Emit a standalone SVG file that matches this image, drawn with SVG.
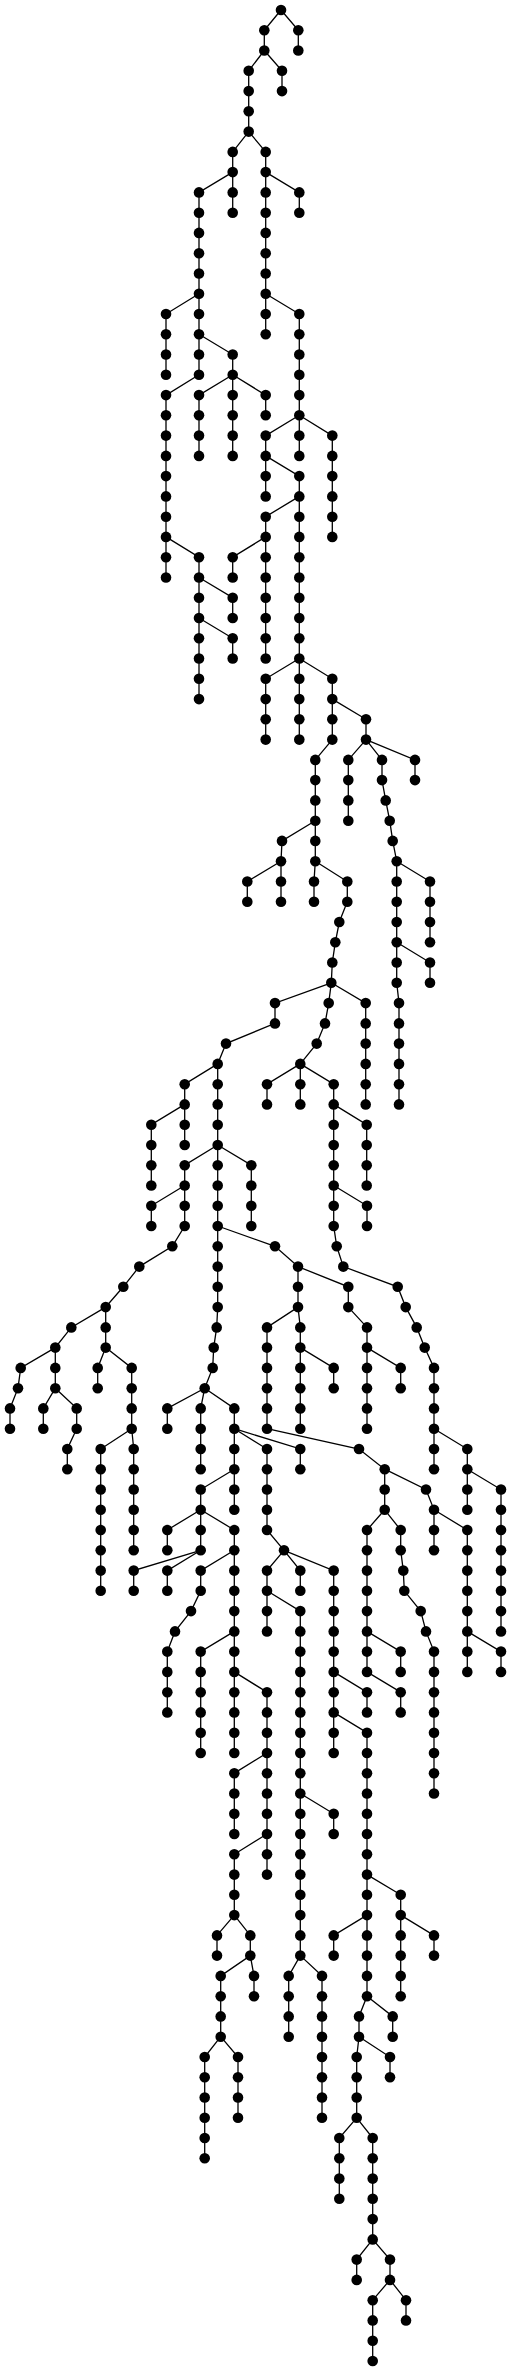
<svg xmlns="http://www.w3.org/2000/svg" width="511" height="2371" viewBox="0 0 511 2371">
<style>
.e path{fill:none;stroke:#000;stroke-width:1.3}
.nodes circle{fill:#000}
</style>
<rect width="511" height="2371" fill="#fff"/>
<g id="connectors" class="e">
<path d="M281,10L264.3,30.3V50.5"/>
<path d="M281,10L298.3,30.3V50.5"/>
<path d="M264.3,50.5L248.7,70.8V131.6"/>
<path d="M264.3,50.5L282,70.8V91.1"/>
<path d="M248.7,131.6L232.7,151.9V172.1"/>
<path d="M248.7,131.6L265.7,151.9V334.3"/>
<path d="M232.7,172.1L199,192.4V374.8"/>
<path d="M232.7,172.1L232.7,192.4V212.7"/>
<path d="M265.7,172.1L299.3,192.4V212.7"/>
<path d="M199,293.7L166,314V374.8"/>
<path d="M265.7,293.7L299.3,314V455.9"/>
<path d="M199,334.3L232.7,354.5V374.8"/>
<path d="M199,374.8L166,395.1V577.5"/>
<path d="M232.7,374.8L199,395.1V455.9"/>
<path d="M232.7,374.8L232.7,395.1V455.9"/>
<path d="M232.7,374.8L265.7,395.1V415.3"/>
<path d="M299.3,415.3L265.7,435.6V496.4"/>
<path d="M299.3,415.3L332.3,435.6V536.9"/>
<path d="M265.7,455.9L299.3,476.1V739.6"/>
<path d="M299.3,496.4L265.7,516.7V658.5"/>
<path d="M166,536.9L199,557.2V699.1"/>
<path d="M265.7,536.9L232.7,557.2V577.5"/>
<path d="M199,577.5L232.7,597.7V618"/>
<path d="M199,618L232.7,638.3V658.5"/>
<path d="M299.3,658.5L265.7,678.8V739.6"/>
<path d="M299.3,658.5L332.3,678.8V739.6"/>
<path d="M332.3,699.1L366,719.3V739.6"/>
<path d="M332.3,739.6L315.3,759.9V861.2"/>
<path d="M366,739.6L348.3,759.9V820.7"/>
<path d="M366,739.6L382,759.9V780.1"/>
<path d="M366,739.6L415,759.9V780.1"/>
<path d="M382,780.1L385.7,800.4L389.7,820.7L392.7,840.9L396.7,861.2V982.8"/>
<path d="M396.7,861.2L430,881.5V942.3"/>
<path d="M396.7,942.3L430,962.5V982.8"/>
<path d="M396.7,982.8L399,1003.1V1104.4"/>
<path d="M315.3,820.7L282,840.9L281,861.2V901.7"/>
<path d="M281,861.2L247.3,881.5V901.7"/>
<path d="M315.3,861.2L314,881.5V901.7"/>
<path d="M315.3,861.2L347.3,881.5V901.7L339.3,922L335.3,942.3L332.3,962.5L331.3,982.8"/>
<path d="M331.3,982.8L275,1003.1V1023.4L226,1043.6L217.7,1063.9V1307.1"/>
<path d="M331.3,982.8L328.7,1003.1L325,1023.4L316.7,1043.6L300.3,1063.9V1104.4"/>
<path d="M331.3,982.8L365.7,1003.1V1104.4"/>
<path d="M217.7,1063.9L184.7,1084.2V1145"/>
<path d="M300.3,1063.9L267,1084.2V1104.4"/>
<path d="M300.3,1063.9L333.7,1084.2V1226"/>
<path d="M184.7,1104.4L151.3,1124.7V1185.5"/>
<path d="M333.7,1104.4L366.7,1124.7V1185.5"/>
<path d="M217.7,1145L184.7,1165.2V1226L172.3,1246.3L139.3,1266.6L123.3,1286.8L105.7,1307.1V1347.6"/>
<path d="M217.7,1145L251.3,1165.2V1226"/>
<path d="M184.7,1185.5L151.3,1205.8V1226"/>
<path d="M333.7,1185.5L367,1205.8V1226"/>
<path d="M217.7,1226L275,1246.3L298,1266.6V1307.1"/>
<path d="M333.7,1226L336.7,1246.3L343.3,1266.6L397.7,1286.8L405.7,1307.1L416.7,1327.4L424.7,1347.6L434,1367.9V1469.2"/>
<path d="M298,1266.6L348.3,1286.8V1307.1"/>
<path d="M105.7,1307.1L71.3,1327.4L55.3,1347.6V1388.2"/>
<path d="M217.7,1307.1L216.7,1327.4L213.7,1347.6L212.7,1367.9L204.7,1388.2"/>
<path d="M298,1307.1L267,1327.4V1428.7"/>
<path d="M298,1307.1L300.3,1327.4V1428.7"/>
<path d="M348.3,1307.1L367,1327.4V1428.7"/>
<path d="M55.3,1347.6L20.7,1367.9L18,1388.2L10,1408.4V1428.7"/>
<path d="M105.7,1347.6L97.7,1367.9V1388.2"/>
<path d="M105.7,1347.6L131.7,1367.9V1428.7"/>
<path d="M300.3,1347.6L333.7,1367.9V1388.2"/>
<path d="M367,1347.6L400.7,1367.9V1388.2"/>
<path d="M55.3,1388.2L43.3,1408.4V1428.7"/>
<path d="M55.3,1388.2L76.7,1408.4V1428.7"/>
<path d="M204.7,1388.2L167.3,1408.4V1428.7"/>
<path d="M204.7,1388.2L200.7,1408.4V1469.2"/>
<path d="M204.7,1388.2L234.3,1408.4V1509.8"/>
<path d="M76.7,1428.7L67.3,1449V1469.2"/>
<path d="M131.7,1428.7L100.7,1449V1590.8"/>
<path d="M131.7,1428.7L133.7,1449V1550.3"/>
<path d="M234.3,1428.7L267,1449V1530L284,1550.3"/>
<path d="M234.3,1428.7L300.3,1449V1469.2"/>
<path d="M267,1428.7L359,1449L384.7,1469.2V1509.8"/>
<path d="M434,1428.7L467.3,1449V1509.8"/>
<path d="M234.3,1469.2L200.7,1489.5V1550.3"/>
<path d="M384.7,1469.2L426,1489.5L434,1509.8V1550.3"/>
<path d="M467.3,1469.2L501,1489.5V1631.4"/>
<path d="M200.7,1509.8L167.3,1530V1550.3"/>
<path d="M200.7,1509.8L234.3,1530V1753"/>
<path d="M384.7,1509.8L367,1530V1671.9"/>
<path d="M384.7,1509.8L400.7,1530V1550.3L403.3,1570.6L404.3,1590.8L420.7,1611.1L426,1631.4L434,1651.6V1793.5"/>
<path d="M434,1509.8L467.3,1530V1671.9"/>
<path d="M200.7,1550.3L133.7,1570.6V1590.8"/>
<path d="M200.7,1550.3L167.3,1570.6V1590.8"/>
<path d="M234.3,1550.3L200.7,1570.6V1590.8L191,1611.1L175,1631.4L167.3,1651.6V1712.4"/>
<path d="M284,1550.3L267,1570.6V1631.4"/>
<path d="M284,1550.3L300.3,1570.6V1590.8"/>
<path d="M284,1550.3L333.7,1570.6V1753"/>
<path d="M267,1590.8L300.3,1611.1V1955.6"/>
<path d="M234.3,1631.4L200.7,1651.6V1753"/>
<path d="M367,1631.4L400.7,1651.6V1671.9"/>
<path d="M467.3,1631.4L501,1651.6V1671.9"/>
<path d="M234.3,1671.9L267,1692.2V1874.6"/>
<path d="M333.7,1671.9L367,1692.2V1712.4"/>
<path d="M367,1671.9L400.7,1692.2V1712.4"/>
<path d="M333.7,1712.4L367,1732.7V1996.2"/>
<path d="M267,1753L234.3,1773.2V1834"/>
<path d="M300.3,1793.5L333.7,1813.8V1834"/>
<path d="M267,1834L234.3,1854.3V1915.1"/>
<path d="M367,1874.6L400.7,1894.8V1996.2"/>
<path d="M234.3,1915.1L217,1935.4V1955.6"/>
<path d="M234.3,1915.1L250.3,1935.4V1955.6"/>
<path d="M367,1915.1L333.7,1935.4V1955.6"/>
<path d="M400.7,1915.1L434,1935.4V1955.6"/>
<path d="M250.3,1955.6L220.7,1975.9V2036.7"/>
<path d="M250.3,1955.6L254,1975.9V1996.2"/>
<path d="M300.3,1955.6L288.7,1975.9V2036.7"/>
<path d="M300.3,1955.6L322,1975.9V2117.8"/>
<path d="M367,1996.2L359,2016.4V2036.7"/>
<path d="M367,1996.2L392.7,2016.4V2036.7"/>
<path d="M220.7,2036.7L204.7,2057V2158.3"/>
<path d="M220.7,2036.7L238,2057V2117.8"/>
<path d="M359,2036.7L356.7,2057V2117.8"/>
<path d="M359,2036.7L390,2057V2077.2"/>
<path d="M356.7,2117.8L339.3,2138V2198.8"/>
<path d="M356.7,2117.8L372.7,2138V2239.4"/>
<path d="M372.7,2239.4L356.7,2259.6V2279.9"/>
<path d="M372.7,2239.4L390,2259.6V2279.9"/>
<path d="M390,2279.9L372.7,2300.2V2361"/>
<path d="M390,2279.9L406,2300.2V2320.4"/>
</g>
<g id="nodes" class="nodes">
<g id="n0"><circle cx="281" cy="10" r="5.3"/></g>
<g id="n1"><circle cx="264.3" cy="30.3" r="5.3"/></g>
<g id="n2"><circle cx="264.3" cy="50.5" r="5.3"/></g>
<g id="n3"><circle cx="298.3" cy="30.3" r="5.3"/></g>
<g id="n4"><circle cx="298.3" cy="50.5" r="5.3"/></g>
<g id="n5"><circle cx="248.7" cy="70.8" r="5.3"/></g>
<g id="n6"><circle cx="248.7" cy="91.1" r="5.3"/></g>
<g id="n7"><circle cx="248.7" cy="111.3" r="5.3"/></g>
<g id="n8"><circle cx="248.7" cy="131.6" r="5.3"/></g>
<g id="n9"><circle cx="282" cy="70.8" r="5.3"/></g>
<g id="n10"><circle cx="282" cy="91.1" r="5.3"/></g>
<g id="n11"><circle cx="232.7" cy="151.9" r="5.3"/></g>
<g id="n12"><circle cx="232.7" cy="172.1" r="5.3"/></g>
<g id="n13"><circle cx="265.7" cy="151.9" r="5.3"/></g>
<g id="n14"><circle cx="265.7" cy="172.1" r="5.3"/></g>
<g id="n15"><circle cx="265.7" cy="192.4" r="5.3"/></g>
<g id="n16"><circle cx="265.7" cy="212.7" r="5.3"/></g>
<g id="n17"><circle cx="265.7" cy="232.9" r="5.3"/></g>
<g id="n18"><circle cx="265.7" cy="253.2" r="5.3"/></g>
<g id="n19"><circle cx="265.7" cy="273.5" r="5.3"/></g>
<g id="n20"><circle cx="265.7" cy="293.7" r="5.3"/></g>
<g id="n21"><circle cx="265.7" cy="314" r="5.3"/></g>
<g id="n22"><circle cx="265.7" cy="334.3" r="5.3"/></g>
<g id="n23"><circle cx="199" cy="192.4" r="5.3"/></g>
<g id="n24"><circle cx="199" cy="212.7" r="5.3"/></g>
<g id="n25"><circle cx="199" cy="232.9" r="5.3"/></g>
<g id="n26"><circle cx="199" cy="253.2" r="5.3"/></g>
<g id="n27"><circle cx="199" cy="273.5" r="5.3"/></g>
<g id="n28"><circle cx="199" cy="293.7" r="5.3"/></g>
<g id="n29"><circle cx="199" cy="314" r="5.3"/></g>
<g id="n30"><circle cx="199" cy="334.3" r="5.3"/></g>
<g id="n31"><circle cx="199" cy="354.5" r="5.3"/></g>
<g id="n32"><circle cx="199" cy="374.8" r="5.3"/></g>
<g id="n33"><circle cx="232.7" cy="192.4" r="5.3"/></g>
<g id="n34"><circle cx="232.7" cy="212.7" r="5.3"/></g>
<g id="n35"><circle cx="299.3" cy="192.4" r="5.3"/></g>
<g id="n36"><circle cx="299.3" cy="212.7" r="5.3"/></g>
<g id="n37"><circle cx="166" cy="314" r="5.3"/></g>
<g id="n38"><circle cx="166" cy="334.3" r="5.3"/></g>
<g id="n39"><circle cx="166" cy="354.5" r="5.3"/></g>
<g id="n40"><circle cx="166" cy="374.8" r="5.3"/></g>
<g id="n41"><circle cx="299.3" cy="314" r="5.3"/></g>
<g id="n42"><circle cx="299.3" cy="334.3" r="5.3"/></g>
<g id="n43"><circle cx="299.3" cy="354.5" r="5.3"/></g>
<g id="n44"><circle cx="299.3" cy="374.8" r="5.3"/></g>
<g id="n45"><circle cx="299.3" cy="395.1" r="5.3"/></g>
<g id="n46"><circle cx="299.3" cy="415.3" r="5.3"/></g>
<g id="n47"><circle cx="299.3" cy="435.6" r="5.3"/></g>
<g id="n48"><circle cx="299.3" cy="455.9" r="5.3"/></g>
<g id="n49"><circle cx="232.7" cy="354.5" r="5.3"/></g>
<g id="n50"><circle cx="232.7" cy="374.8" r="5.3"/></g>
<g id="n51"><circle cx="166" cy="395.1" r="5.3"/></g>
<g id="n52"><circle cx="166" cy="415.3" r="5.3"/></g>
<g id="n53"><circle cx="166" cy="435.6" r="5.3"/></g>
<g id="n54"><circle cx="166" cy="455.9" r="5.3"/></g>
<g id="n55"><circle cx="166" cy="476.1" r="5.3"/></g>
<g id="n56"><circle cx="166" cy="496.4" r="5.3"/></g>
<g id="n57"><circle cx="166" cy="516.7" r="5.3"/></g>
<g id="n58"><circle cx="166" cy="536.9" r="5.3"/></g>
<g id="n59"><circle cx="166" cy="557.2" r="5.3"/></g>
<g id="n60"><circle cx="166" cy="577.5" r="5.3"/></g>
<g id="n61"><circle cx="199" cy="395.1" r="5.3"/></g>
<g id="n62"><circle cx="199" cy="415.3" r="5.3"/></g>
<g id="n63"><circle cx="199" cy="435.6" r="5.3"/></g>
<g id="n64"><circle cx="199" cy="455.9" r="5.3"/></g>
<g id="n65"><circle cx="232.7" cy="395.1" r="5.3"/></g>
<g id="n66"><circle cx="232.7" cy="415.3" r="5.3"/></g>
<g id="n67"><circle cx="232.7" cy="435.6" r="5.3"/></g>
<g id="n68"><circle cx="232.7" cy="455.9" r="5.3"/></g>
<g id="n69"><circle cx="265.7" cy="395.1" r="5.3"/></g>
<g id="n70"><circle cx="265.7" cy="415.3" r="5.3"/></g>
<g id="n71"><circle cx="265.7" cy="435.6" r="5.3"/></g>
<g id="n72"><circle cx="265.7" cy="455.9" r="5.3"/></g>
<g id="n73"><circle cx="265.7" cy="476.1" r="5.3"/></g>
<g id="n74"><circle cx="265.7" cy="496.4" r="5.3"/></g>
<g id="n75"><circle cx="332.3" cy="435.6" r="5.3"/></g>
<g id="n76"><circle cx="332.3" cy="455.9" r="5.3"/></g>
<g id="n77"><circle cx="332.3" cy="476.1" r="5.3"/></g>
<g id="n78"><circle cx="332.3" cy="496.4" r="5.3"/></g>
<g id="n79"><circle cx="332.3" cy="516.7" r="5.3"/></g>
<g id="n80"><circle cx="332.3" cy="536.9" r="5.3"/></g>
<g id="n81"><circle cx="299.3" cy="476.1" r="5.3"/></g>
<g id="n82"><circle cx="299.3" cy="496.4" r="5.3"/></g>
<g id="n83"><circle cx="299.3" cy="516.7" r="5.3"/></g>
<g id="n84"><circle cx="299.3" cy="536.9" r="5.3"/></g>
<g id="n85"><circle cx="299.3" cy="557.2" r="5.3"/></g>
<g id="n86"><circle cx="299.3" cy="577.5" r="5.3"/></g>
<g id="n87"><circle cx="299.3" cy="597.7" r="5.3"/></g>
<g id="n88"><circle cx="299.3" cy="618" r="5.3"/></g>
<g id="n89"><circle cx="299.3" cy="638.3" r="5.3"/></g>
<g id="n90"><circle cx="299.3" cy="658.5" r="5.3"/></g>
<g id="n91"><circle cx="299.3" cy="678.8" r="5.3"/></g>
<g id="n92"><circle cx="299.3" cy="699.1" r="5.3"/></g>
<g id="n93"><circle cx="299.3" cy="719.3" r="5.3"/></g>
<g id="n94"><circle cx="299.3" cy="739.6" r="5.3"/></g>
<g id="n95"><circle cx="265.7" cy="516.7" r="5.3"/></g>
<g id="n96"><circle cx="265.7" cy="536.9" r="5.3"/></g>
<g id="n97"><circle cx="265.7" cy="557.2" r="5.3"/></g>
<g id="n98"><circle cx="265.7" cy="577.5" r="5.3"/></g>
<g id="n99"><circle cx="265.7" cy="597.7" r="5.3"/></g>
<g id="n100"><circle cx="265.7" cy="618" r="5.3"/></g>
<g id="n101"><circle cx="265.7" cy="638.3" r="5.3"/></g>
<g id="n102"><circle cx="265.7" cy="658.5" r="5.3"/></g>
<g id="n103"><circle cx="199" cy="557.2" r="5.3"/></g>
<g id="n104"><circle cx="199" cy="577.5" r="5.3"/></g>
<g id="n105"><circle cx="199" cy="597.7" r="5.3"/></g>
<g id="n106"><circle cx="199" cy="618" r="5.3"/></g>
<g id="n107"><circle cx="199" cy="638.3" r="5.3"/></g>
<g id="n108"><circle cx="199" cy="658.5" r="5.3"/></g>
<g id="n109"><circle cx="199" cy="678.8" r="5.3"/></g>
<g id="n110"><circle cx="199" cy="699.1" r="5.3"/></g>
<g id="n111"><circle cx="232.7" cy="557.2" r="5.3"/></g>
<g id="n112"><circle cx="232.7" cy="577.5" r="5.3"/></g>
<g id="n113"><circle cx="232.7" cy="597.7" r="5.3"/></g>
<g id="n114"><circle cx="232.7" cy="618" r="5.3"/></g>
<g id="n115"><circle cx="232.7" cy="638.3" r="5.3"/></g>
<g id="n116"><circle cx="232.7" cy="658.5" r="5.3"/></g>
<g id="n117"><circle cx="265.7" cy="678.8" r="5.3"/></g>
<g id="n118"><circle cx="265.7" cy="699.1" r="5.3"/></g>
<g id="n119"><circle cx="265.7" cy="719.3" r="5.3"/></g>
<g id="n120"><circle cx="265.7" cy="739.6" r="5.3"/></g>
<g id="n121"><circle cx="332.3" cy="678.8" r="5.3"/></g>
<g id="n122"><circle cx="332.3" cy="699.1" r="5.3"/></g>
<g id="n123"><circle cx="332.3" cy="719.3" r="5.3"/></g>
<g id="n124"><circle cx="332.3" cy="739.6" r="5.3"/></g>
<g id="n125"><circle cx="366" cy="719.3" r="5.3"/></g>
<g id="n126"><circle cx="366" cy="739.6" r="5.3"/></g>
<g id="n127"><circle cx="315.3" cy="759.9" r="5.3"/></g>
<g id="n128"><circle cx="315.3" cy="780.1" r="5.3"/></g>
<g id="n129"><circle cx="315.3" cy="800.4" r="5.3"/></g>
<g id="n130"><circle cx="315.3" cy="820.7" r="5.3"/></g>
<g id="n131"><circle cx="315.3" cy="840.9" r="5.3"/></g>
<g id="n132"><circle cx="315.3" cy="861.2" r="5.3"/></g>
<g id="n133"><circle cx="348.3" cy="759.9" r="5.3"/></g>
<g id="n134"><circle cx="348.3" cy="780.1" r="5.3"/></g>
<g id="n135"><circle cx="348.3" cy="800.4" r="5.3"/></g>
<g id="n136"><circle cx="348.3" cy="820.7" r="5.3"/></g>
<g id="n137"><circle cx="382" cy="759.9" r="5.3"/></g>
<g id="n138"><circle cx="382" cy="780.1" r="5.3"/></g>
<g id="n139"><circle cx="415" cy="759.9" r="5.3"/></g>
<g id="n140"><circle cx="415" cy="780.1" r="5.3"/></g>
<g id="n141"><circle cx="385.7" cy="800.4" r="5.3"/></g>
<g id="n142"><circle cx="389.7" cy="820.7" r="5.3"/></g>
<g id="n143"><circle cx="392.7" cy="840.9" r="5.3"/></g>
<g id="n144"><circle cx="396.7" cy="861.2" r="5.3"/></g>
<g id="n145"><circle cx="396.7" cy="881.5" r="5.3"/></g>
<g id="n146"><circle cx="396.7" cy="901.7" r="5.3"/></g>
<g id="n147"><circle cx="396.7" cy="922" r="5.3"/></g>
<g id="n148"><circle cx="396.7" cy="942.3" r="5.3"/></g>
<g id="n149"><circle cx="396.7" cy="962.5" r="5.3"/></g>
<g id="n150"><circle cx="396.7" cy="982.8" r="5.3"/></g>
<g id="n151"><circle cx="430" cy="881.5" r="5.3"/></g>
<g id="n152"><circle cx="430" cy="901.7" r="5.3"/></g>
<g id="n153"><circle cx="430" cy="922" r="5.3"/></g>
<g id="n154"><circle cx="430" cy="942.3" r="5.3"/></g>
<g id="n155"><circle cx="430" cy="962.5" r="5.3"/></g>
<g id="n156"><circle cx="430" cy="982.8" r="5.3"/></g>
<g id="n157"><circle cx="399" cy="1003.1" r="5.3"/></g>
<g id="n158"><circle cx="399" cy="1023.4" r="5.3"/></g>
<g id="n159"><circle cx="399" cy="1043.6" r="5.3"/></g>
<g id="n160"><circle cx="399" cy="1063.9" r="5.3"/></g>
<g id="n161"><circle cx="399" cy="1084.2" r="5.3"/></g>
<g id="n162"><circle cx="399" cy="1104.4" r="5.3"/></g>
<g id="n163"><circle cx="282" cy="840.9" r="5.3"/></g>
<g id="n164"><circle cx="281" cy="861.2" r="5.3"/></g>
<g id="n165"><circle cx="281" cy="881.5" r="5.3"/></g>
<g id="n166"><circle cx="281" cy="901.7" r="5.3"/></g>
<g id="n167"><circle cx="247.3" cy="881.5" r="5.3"/></g>
<g id="n168"><circle cx="247.3" cy="901.7" r="5.3"/></g>
<g id="n169"><circle cx="314" cy="881.5" r="5.3"/></g>
<g id="n170"><circle cx="314" cy="901.7" r="5.3"/></g>
<g id="n171"><circle cx="347.3" cy="881.5" r="5.3"/></g>
<g id="n172"><circle cx="347.3" cy="901.7" r="5.3"/></g>
<g id="n173"><circle cx="339.3" cy="922" r="5.3"/></g>
<g id="n174"><circle cx="335.3" cy="942.3" r="5.3"/></g>
<g id="n175"><circle cx="332.3" cy="962.5" r="5.3"/></g>
<g id="n176"><circle cx="331.3" cy="982.8" r="5.3"/></g>
<g id="n177"><circle cx="275" cy="1003.1" r="5.3"/></g>
<g id="n178"><circle cx="275" cy="1023.4" r="5.3"/></g>
<g id="n179"><circle cx="226" cy="1043.6" r="5.3"/></g>
<g id="n180"><circle cx="217.7" cy="1063.9" r="5.3"/></g>
<g id="n181"><circle cx="217.7" cy="1084.2" r="5.3"/></g>
<g id="n182"><circle cx="217.7" cy="1104.4" r="5.3"/></g>
<g id="n183"><circle cx="217.7" cy="1124.7" r="5.3"/></g>
<g id="n184"><circle cx="217.7" cy="1145" r="5.3"/></g>
<g id="n185"><circle cx="217.7" cy="1165.2" r="5.3"/></g>
<g id="n186"><circle cx="217.7" cy="1185.5" r="5.3"/></g>
<g id="n187"><circle cx="217.7" cy="1205.8" r="5.3"/></g>
<g id="n188"><circle cx="217.7" cy="1226" r="5.3"/></g>
<g id="n189"><circle cx="217.7" cy="1246.3" r="5.3"/></g>
<g id="n190"><circle cx="217.7" cy="1266.6" r="5.3"/></g>
<g id="n191"><circle cx="217.7" cy="1286.8" r="5.3"/></g>
<g id="n192"><circle cx="217.7" cy="1307.1" r="5.3"/></g>
<g id="n193"><circle cx="328.7" cy="1003.1" r="5.3"/></g>
<g id="n194"><circle cx="325" cy="1023.4" r="5.3"/></g>
<g id="n195"><circle cx="316.7" cy="1043.6" r="5.3"/></g>
<g id="n196"><circle cx="300.3" cy="1063.9" r="5.3"/></g>
<g id="n197"><circle cx="300.3" cy="1084.2" r="5.3"/></g>
<g id="n198"><circle cx="300.3" cy="1104.4" r="5.3"/></g>
<g id="n199"><circle cx="365.7" cy="1003.1" r="5.3"/></g>
<g id="n200"><circle cx="365.7" cy="1023.4" r="5.3"/></g>
<g id="n201"><circle cx="365.7" cy="1043.6" r="5.3"/></g>
<g id="n202"><circle cx="365.7" cy="1063.9" r="5.3"/></g>
<g id="n203"><circle cx="365.7" cy="1084.2" r="5.3"/></g>
<g id="n204"><circle cx="365.7" cy="1104.4" r="5.3"/></g>
<g id="n205"><circle cx="184.7" cy="1084.2" r="5.3"/></g>
<g id="n206"><circle cx="184.7" cy="1104.4" r="5.3"/></g>
<g id="n207"><circle cx="184.7" cy="1124.7" r="5.3"/></g>
<g id="n208"><circle cx="184.7" cy="1145" r="5.3"/></g>
<g id="n209"><circle cx="267" cy="1084.2" r="5.3"/></g>
<g id="n210"><circle cx="267" cy="1104.4" r="5.3"/></g>
<g id="n211"><circle cx="333.7" cy="1084.2" r="5.3"/></g>
<g id="n212"><circle cx="333.7" cy="1104.4" r="5.3"/></g>
<g id="n213"><circle cx="333.7" cy="1124.7" r="5.3"/></g>
<g id="n214"><circle cx="333.7" cy="1145" r="5.3"/></g>
<g id="n215"><circle cx="333.7" cy="1165.2" r="5.3"/></g>
<g id="n216"><circle cx="333.7" cy="1185.5" r="5.3"/></g>
<g id="n217"><circle cx="333.7" cy="1205.8" r="5.3"/></g>
<g id="n218"><circle cx="333.7" cy="1226" r="5.3"/></g>
<g id="n219"><circle cx="151.3" cy="1124.7" r="5.3"/></g>
<g id="n220"><circle cx="151.3" cy="1145" r="5.3"/></g>
<g id="n221"><circle cx="151.3" cy="1165.2" r="5.3"/></g>
<g id="n222"><circle cx="151.3" cy="1185.5" r="5.3"/></g>
<g id="n223"><circle cx="366.7" cy="1124.7" r="5.3"/></g>
<g id="n224"><circle cx="366.7" cy="1145" r="5.3"/></g>
<g id="n225"><circle cx="366.7" cy="1165.2" r="5.3"/></g>
<g id="n226"><circle cx="366.7" cy="1185.5" r="5.3"/></g>
<g id="n227"><circle cx="184.7" cy="1165.2" r="5.3"/></g>
<g id="n228"><circle cx="184.7" cy="1185.5" r="5.3"/></g>
<g id="n229"><circle cx="184.7" cy="1205.8" r="5.3"/></g>
<g id="n230"><circle cx="184.7" cy="1226" r="5.3"/></g>
<g id="n231"><circle cx="172.3" cy="1246.3" r="5.3"/></g>
<g id="n232"><circle cx="139.3" cy="1266.6" r="5.3"/></g>
<g id="n233"><circle cx="123.3" cy="1286.8" r="5.3"/></g>
<g id="n234"><circle cx="105.7" cy="1307.1" r="5.3"/></g>
<g id="n235"><circle cx="105.7" cy="1327.4" r="5.3"/></g>
<g id="n236"><circle cx="105.7" cy="1347.6" r="5.3"/></g>
<g id="n237"><circle cx="251.3" cy="1165.2" r="5.3"/></g>
<g id="n238"><circle cx="251.3" cy="1185.5" r="5.3"/></g>
<g id="n239"><circle cx="251.3" cy="1205.8" r="5.3"/></g>
<g id="n240"><circle cx="251.3" cy="1226" r="5.3"/></g>
<g id="n241"><circle cx="151.3" cy="1205.8" r="5.3"/></g>
<g id="n242"><circle cx="151.3" cy="1226" r="5.3"/></g>
<g id="n243"><circle cx="367" cy="1205.8" r="5.3"/></g>
<g id="n244"><circle cx="367" cy="1226" r="5.3"/></g>
<g id="n245"><circle cx="275" cy="1246.3" r="5.3"/></g>
<g id="n246"><circle cx="298" cy="1266.6" r="5.3"/></g>
<g id="n247"><circle cx="298" cy="1286.8" r="5.3"/></g>
<g id="n248"><circle cx="298" cy="1307.1" r="5.3"/></g>
<g id="n249"><circle cx="336.7" cy="1246.3" r="5.3"/></g>
<g id="n250"><circle cx="343.3" cy="1266.6" r="5.3"/></g>
<g id="n251"><circle cx="397.7" cy="1286.8" r="5.3"/></g>
<g id="n252"><circle cx="405.7" cy="1307.1" r="5.3"/></g>
<g id="n253"><circle cx="416.7" cy="1327.4" r="5.3"/></g>
<g id="n254"><circle cx="424.7" cy="1347.6" r="5.3"/></g>
<g id="n255"><circle cx="434" cy="1367.9" r="5.3"/></g>
<g id="n256"><circle cx="434" cy="1388.2" r="5.3"/></g>
<g id="n257"><circle cx="434" cy="1408.4" r="5.3"/></g>
<g id="n258"><circle cx="434" cy="1428.7" r="5.3"/></g>
<g id="n259"><circle cx="434" cy="1449" r="5.3"/></g>
<g id="n260"><circle cx="434" cy="1469.2" r="5.3"/></g>
<g id="n261"><circle cx="348.3" cy="1286.8" r="5.3"/></g>
<g id="n262"><circle cx="348.3" cy="1307.1" r="5.3"/></g>
<g id="n263"><circle cx="71.3" cy="1327.4" r="5.3"/></g>
<g id="n264"><circle cx="55.3" cy="1347.6" r="5.3"/></g>
<g id="n265"><circle cx="55.3" cy="1367.9" r="5.3"/></g>
<g id="n266"><circle cx="55.3" cy="1388.2" r="5.3"/></g>
<g id="n267"><circle cx="216.7" cy="1327.4" r="5.3"/></g>
<g id="n268"><circle cx="213.7" cy="1347.6" r="5.3"/></g>
<g id="n269"><circle cx="212.7" cy="1367.9" r="5.3"/></g>
<g id="n270"><circle cx="204.7" cy="1388.2" r="5.3"/></g>
<g id="n271"><circle cx="267" cy="1327.4" r="5.3"/></g>
<g id="n272"><circle cx="267" cy="1347.6" r="5.3"/></g>
<g id="n273"><circle cx="267" cy="1367.9" r="5.3"/></g>
<g id="n274"><circle cx="267" cy="1388.2" r="5.3"/></g>
<g id="n275"><circle cx="267" cy="1408.4" r="5.3"/></g>
<g id="n276"><circle cx="267" cy="1428.7" r="5.3"/></g>
<g id="n277"><circle cx="300.3" cy="1327.4" r="5.3"/></g>
<g id="n278"><circle cx="300.3" cy="1347.6" r="5.3"/></g>
<g id="n279"><circle cx="300.3" cy="1367.9" r="5.3"/></g>
<g id="n280"><circle cx="300.3" cy="1388.2" r="5.3"/></g>
<g id="n281"><circle cx="300.3" cy="1408.4" r="5.3"/></g>
<g id="n282"><circle cx="300.3" cy="1428.7" r="5.3"/></g>
<g id="n283"><circle cx="367" cy="1327.4" r="5.3"/></g>
<g id="n284"><circle cx="367" cy="1347.6" r="5.3"/></g>
<g id="n285"><circle cx="367" cy="1367.9" r="5.3"/></g>
<g id="n286"><circle cx="367" cy="1388.2" r="5.3"/></g>
<g id="n287"><circle cx="367" cy="1408.4" r="5.3"/></g>
<g id="n288"><circle cx="367" cy="1428.7" r="5.3"/></g>
<g id="n289"><circle cx="20.7" cy="1367.9" r="5.3"/></g>
<g id="n290"><circle cx="18" cy="1388.2" r="5.3"/></g>
<g id="n291"><circle cx="10" cy="1408.4" r="5.3"/></g>
<g id="n292"><circle cx="10" cy="1428.7" r="5.3"/></g>
<g id="n293"><circle cx="97.7" cy="1367.9" r="5.3"/></g>
<g id="n294"><circle cx="97.7" cy="1388.2" r="5.3"/></g>
<g id="n295"><circle cx="131.7" cy="1367.9" r="5.3"/></g>
<g id="n296"><circle cx="131.7" cy="1388.2" r="5.3"/></g>
<g id="n297"><circle cx="131.7" cy="1408.4" r="5.3"/></g>
<g id="n298"><circle cx="131.7" cy="1428.7" r="5.3"/></g>
<g id="n299"><circle cx="333.7" cy="1367.9" r="5.3"/></g>
<g id="n300"><circle cx="333.7" cy="1388.2" r="5.3"/></g>
<g id="n301"><circle cx="400.7" cy="1367.9" r="5.3"/></g>
<g id="n302"><circle cx="400.7" cy="1388.2" r="5.3"/></g>
<g id="n303"><circle cx="43.3" cy="1408.4" r="5.3"/></g>
<g id="n304"><circle cx="43.3" cy="1428.7" r="5.3"/></g>
<g id="n305"><circle cx="76.7" cy="1408.4" r="5.3"/></g>
<g id="n306"><circle cx="76.7" cy="1428.7" r="5.3"/></g>
<g id="n307"><circle cx="167.3" cy="1408.4" r="5.3"/></g>
<g id="n308"><circle cx="167.3" cy="1428.7" r="5.3"/></g>
<g id="n309"><circle cx="200.7" cy="1408.4" r="5.3"/></g>
<g id="n310"><circle cx="200.7" cy="1428.7" r="5.3"/></g>
<g id="n311"><circle cx="200.7" cy="1449" r="5.3"/></g>
<g id="n312"><circle cx="200.7" cy="1469.2" r="5.3"/></g>
<g id="n313"><circle cx="234.3" cy="1408.4" r="5.3"/></g>
<g id="n314"><circle cx="234.3" cy="1428.7" r="5.3"/></g>
<g id="n315"><circle cx="234.3" cy="1449" r="5.3"/></g>
<g id="n316"><circle cx="234.3" cy="1469.2" r="5.3"/></g>
<g id="n317"><circle cx="234.3" cy="1489.5" r="5.3"/></g>
<g id="n318"><circle cx="234.3" cy="1509.8" r="5.3"/></g>
<g id="n319"><circle cx="67.3" cy="1449" r="5.3"/></g>
<g id="n320"><circle cx="67.3" cy="1469.2" r="5.3"/></g>
<g id="n321"><circle cx="100.7" cy="1449" r="5.3"/></g>
<g id="n322"><circle cx="100.7" cy="1469.2" r="5.3"/></g>
<g id="n323"><circle cx="100.7" cy="1489.5" r="5.3"/></g>
<g id="n324"><circle cx="100.7" cy="1509.8" r="5.3"/></g>
<g id="n325"><circle cx="100.7" cy="1530" r="5.3"/></g>
<g id="n326"><circle cx="100.7" cy="1550.3" r="5.3"/></g>
<g id="n327"><circle cx="100.7" cy="1570.6" r="5.3"/></g>
<g id="n328"><circle cx="100.7" cy="1590.8" r="5.3"/></g>
<g id="n329"><circle cx="133.7" cy="1449" r="5.3"/></g>
<g id="n330"><circle cx="133.7" cy="1469.2" r="5.3"/></g>
<g id="n331"><circle cx="133.7" cy="1489.5" r="5.3"/></g>
<g id="n332"><circle cx="133.7" cy="1509.8" r="5.3"/></g>
<g id="n333"><circle cx="133.7" cy="1530" r="5.3"/></g>
<g id="n334"><circle cx="133.7" cy="1550.3" r="5.3"/></g>
<g id="n335"><circle cx="267" cy="1449" r="5.3"/></g>
<g id="n336"><circle cx="267" cy="1469.2" r="5.3"/></g>
<g id="n337"><circle cx="267" cy="1489.5" r="5.3"/></g>
<g id="n338"><circle cx="267" cy="1509.8" r="5.3"/></g>
<g id="n339"><circle cx="267" cy="1530" r="5.3"/></g>
<g id="n340"><circle cx="284" cy="1550.3" r="5.3"/></g>
<g id="n341"><circle cx="300.3" cy="1449" r="5.3"/></g>
<g id="n342"><circle cx="300.3" cy="1469.2" r="5.3"/></g>
<g id="n343"><circle cx="359" cy="1449" r="5.3"/></g>
<g id="n344"><circle cx="384.7" cy="1469.2" r="5.3"/></g>
<g id="n345"><circle cx="384.7" cy="1489.5" r="5.3"/></g>
<g id="n346"><circle cx="384.7" cy="1509.8" r="5.3"/></g>
<g id="n347"><circle cx="467.3" cy="1449" r="5.3"/></g>
<g id="n348"><circle cx="467.3" cy="1469.2" r="5.3"/></g>
<g id="n349"><circle cx="467.3" cy="1489.5" r="5.3"/></g>
<g id="n350"><circle cx="467.3" cy="1509.8" r="5.3"/></g>
<g id="n351"><circle cx="200.7" cy="1489.5" r="5.3"/></g>
<g id="n352"><circle cx="200.7" cy="1509.8" r="5.3"/></g>
<g id="n353"><circle cx="200.7" cy="1530" r="5.3"/></g>
<g id="n354"><circle cx="200.7" cy="1550.3" r="5.3"/></g>
<g id="n355"><circle cx="426" cy="1489.5" r="5.3"/></g>
<g id="n356"><circle cx="434" cy="1509.8" r="5.3"/></g>
<g id="n357"><circle cx="434" cy="1530" r="5.3"/></g>
<g id="n358"><circle cx="434" cy="1550.3" r="5.3"/></g>
<g id="n359"><circle cx="501" cy="1489.5" r="5.3"/></g>
<g id="n360"><circle cx="501" cy="1509.8" r="5.3"/></g>
<g id="n361"><circle cx="501" cy="1530" r="5.3"/></g>
<g id="n362"><circle cx="501" cy="1550.3" r="5.3"/></g>
<g id="n363"><circle cx="501" cy="1570.6" r="5.3"/></g>
<g id="n364"><circle cx="501" cy="1590.8" r="5.3"/></g>
<g id="n365"><circle cx="501" cy="1611.1" r="5.3"/></g>
<g id="n366"><circle cx="501" cy="1631.4" r="5.3"/></g>
<g id="n367"><circle cx="167.3" cy="1530" r="5.3"/></g>
<g id="n368"><circle cx="167.3" cy="1550.3" r="5.3"/></g>
<g id="n369"><circle cx="234.3" cy="1530" r="5.3"/></g>
<g id="n370"><circle cx="234.3" cy="1550.3" r="5.3"/></g>
<g id="n371"><circle cx="234.3" cy="1570.6" r="5.3"/></g>
<g id="n372"><circle cx="234.3" cy="1590.8" r="5.3"/></g>
<g id="n373"><circle cx="234.3" cy="1611.1" r="5.3"/></g>
<g id="n374"><circle cx="234.3" cy="1631.4" r="5.3"/></g>
<g id="n375"><circle cx="234.3" cy="1651.6" r="5.3"/></g>
<g id="n376"><circle cx="234.3" cy="1671.9" r="5.3"/></g>
<g id="n377"><circle cx="234.3" cy="1692.2" r="5.3"/></g>
<g id="n378"><circle cx="234.3" cy="1712.4" r="5.3"/></g>
<g id="n379"><circle cx="234.3" cy="1732.7" r="5.3"/></g>
<g id="n380"><circle cx="234.3" cy="1753" r="5.3"/></g>
<g id="n381"><circle cx="367" cy="1530" r="5.3"/></g>
<g id="n382"><circle cx="367" cy="1550.3" r="5.3"/></g>
<g id="n383"><circle cx="367" cy="1570.6" r="5.3"/></g>
<g id="n384"><circle cx="367" cy="1590.8" r="5.3"/></g>
<g id="n385"><circle cx="367" cy="1611.1" r="5.3"/></g>
<g id="n386"><circle cx="367" cy="1631.4" r="5.3"/></g>
<g id="n387"><circle cx="367" cy="1651.6" r="5.3"/></g>
<g id="n388"><circle cx="367" cy="1671.9" r="5.3"/></g>
<g id="n389"><circle cx="400.7" cy="1530" r="5.3"/></g>
<g id="n390"><circle cx="400.7" cy="1550.3" r="5.3"/></g>
<g id="n391"><circle cx="403.3" cy="1570.6" r="5.3"/></g>
<g id="n392"><circle cx="404.3" cy="1590.8" r="5.3"/></g>
<g id="n393"><circle cx="420.7" cy="1611.1" r="5.3"/></g>
<g id="n394"><circle cx="426" cy="1631.4" r="5.3"/></g>
<g id="n395"><circle cx="434" cy="1651.6" r="5.3"/></g>
<g id="n396"><circle cx="434" cy="1671.9" r="5.3"/></g>
<g id="n397"><circle cx="434" cy="1692.2" r="5.3"/></g>
<g id="n398"><circle cx="434" cy="1712.4" r="5.3"/></g>
<g id="n399"><circle cx="434" cy="1732.7" r="5.3"/></g>
<g id="n400"><circle cx="434" cy="1753" r="5.3"/></g>
<g id="n401"><circle cx="434" cy="1773.2" r="5.3"/></g>
<g id="n402"><circle cx="434" cy="1793.5" r="5.3"/></g>
<g id="n403"><circle cx="467.3" cy="1530" r="5.3"/></g>
<g id="n404"><circle cx="467.3" cy="1550.3" r="5.3"/></g>
<g id="n405"><circle cx="467.3" cy="1570.6" r="5.3"/></g>
<g id="n406"><circle cx="467.3" cy="1590.8" r="5.3"/></g>
<g id="n407"><circle cx="467.3" cy="1611.1" r="5.3"/></g>
<g id="n408"><circle cx="467.3" cy="1631.4" r="5.3"/></g>
<g id="n409"><circle cx="467.3" cy="1651.6" r="5.3"/></g>
<g id="n410"><circle cx="467.3" cy="1671.9" r="5.3"/></g>
<g id="n411"><circle cx="133.7" cy="1570.6" r="5.3"/></g>
<g id="n412"><circle cx="133.7" cy="1590.8" r="5.3"/></g>
<g id="n413"><circle cx="167.3" cy="1570.6" r="5.3"/></g>
<g id="n414"><circle cx="167.3" cy="1590.8" r="5.3"/></g>
<g id="n415"><circle cx="200.7" cy="1570.6" r="5.3"/></g>
<g id="n416"><circle cx="200.7" cy="1590.8" r="5.3"/></g>
<g id="n417"><circle cx="191" cy="1611.1" r="5.3"/></g>
<g id="n418"><circle cx="175" cy="1631.4" r="5.3"/></g>
<g id="n419"><circle cx="167.3" cy="1651.6" r="5.3"/></g>
<g id="n420"><circle cx="167.3" cy="1671.9" r="5.3"/></g>
<g id="n421"><circle cx="167.3" cy="1692.2" r="5.3"/></g>
<g id="n422"><circle cx="167.3" cy="1712.4" r="5.3"/></g>
<g id="n423"><circle cx="267" cy="1570.6" r="5.3"/></g>
<g id="n424"><circle cx="267" cy="1590.8" r="5.3"/></g>
<g id="n425"><circle cx="267" cy="1611.1" r="5.3"/></g>
<g id="n426"><circle cx="267" cy="1631.4" r="5.3"/></g>
<g id="n427"><circle cx="300.3" cy="1570.6" r="5.3"/></g>
<g id="n428"><circle cx="300.3" cy="1590.8" r="5.3"/></g>
<g id="n429"><circle cx="333.7" cy="1570.6" r="5.3"/></g>
<g id="n430"><circle cx="333.7" cy="1590.8" r="5.3"/></g>
<g id="n431"><circle cx="333.7" cy="1611.1" r="5.3"/></g>
<g id="n432"><circle cx="333.7" cy="1631.4" r="5.3"/></g>
<g id="n433"><circle cx="333.7" cy="1651.6" r="5.3"/></g>
<g id="n434"><circle cx="333.7" cy="1671.9" r="5.3"/></g>
<g id="n435"><circle cx="333.7" cy="1692.2" r="5.3"/></g>
<g id="n436"><circle cx="333.7" cy="1712.4" r="5.3"/></g>
<g id="n437"><circle cx="333.7" cy="1732.7" r="5.3"/></g>
<g id="n438"><circle cx="333.7" cy="1753" r="5.3"/></g>
<g id="n439"><circle cx="300.3" cy="1611.1" r="5.3"/></g>
<g id="n440"><circle cx="300.3" cy="1631.4" r="5.3"/></g>
<g id="n441"><circle cx="300.3" cy="1651.6" r="5.3"/></g>
<g id="n442"><circle cx="300.3" cy="1671.9" r="5.3"/></g>
<g id="n443"><circle cx="300.3" cy="1692.2" r="5.3"/></g>
<g id="n444"><circle cx="300.3" cy="1712.4" r="5.3"/></g>
<g id="n445"><circle cx="300.3" cy="1732.7" r="5.3"/></g>
<g id="n446"><circle cx="300.3" cy="1753" r="5.3"/></g>
<g id="n447"><circle cx="300.3" cy="1773.2" r="5.3"/></g>
<g id="n448"><circle cx="300.3" cy="1793.5" r="5.3"/></g>
<g id="n449"><circle cx="300.3" cy="1813.8" r="5.3"/></g>
<g id="n450"><circle cx="300.3" cy="1834" r="5.3"/></g>
<g id="n451"><circle cx="300.3" cy="1854.3" r="5.3"/></g>
<g id="n452"><circle cx="300.3" cy="1874.6" r="5.3"/></g>
<g id="n453"><circle cx="300.3" cy="1894.8" r="5.3"/></g>
<g id="n454"><circle cx="300.3" cy="1915.1" r="5.3"/></g>
<g id="n455"><circle cx="300.3" cy="1935.4" r="5.3"/></g>
<g id="n456"><circle cx="300.3" cy="1955.6" r="5.3"/></g>
<g id="n457"><circle cx="200.7" cy="1651.6" r="5.3"/></g>
<g id="n458"><circle cx="200.7" cy="1671.9" r="5.3"/></g>
<g id="n459"><circle cx="200.7" cy="1692.2" r="5.3"/></g>
<g id="n460"><circle cx="200.7" cy="1712.4" r="5.3"/></g>
<g id="n461"><circle cx="200.7" cy="1732.7" r="5.3"/></g>
<g id="n462"><circle cx="200.7" cy="1753" r="5.3"/></g>
<g id="n463"><circle cx="400.7" cy="1651.6" r="5.3"/></g>
<g id="n464"><circle cx="400.7" cy="1671.9" r="5.3"/></g>
<g id="n465"><circle cx="501" cy="1651.6" r="5.3"/></g>
<g id="n466"><circle cx="501" cy="1671.9" r="5.3"/></g>
<g id="n467"><circle cx="267" cy="1692.2" r="5.3"/></g>
<g id="n468"><circle cx="267" cy="1712.4" r="5.3"/></g>
<g id="n469"><circle cx="267" cy="1732.7" r="5.3"/></g>
<g id="n470"><circle cx="267" cy="1753" r="5.3"/></g>
<g id="n471"><circle cx="267" cy="1773.2" r="5.3"/></g>
<g id="n472"><circle cx="267" cy="1793.5" r="5.3"/></g>
<g id="n473"><circle cx="267" cy="1813.8" r="5.3"/></g>
<g id="n474"><circle cx="267" cy="1834" r="5.3"/></g>
<g id="n475"><circle cx="267" cy="1854.3" r="5.3"/></g>
<g id="n476"><circle cx="267" cy="1874.6" r="5.3"/></g>
<g id="n477"><circle cx="367" cy="1692.2" r="5.3"/></g>
<g id="n478"><circle cx="367" cy="1712.4" r="5.3"/></g>
<g id="n479"><circle cx="400.7" cy="1692.2" r="5.3"/></g>
<g id="n480"><circle cx="400.7" cy="1712.4" r="5.3"/></g>
<g id="n481"><circle cx="367" cy="1732.7" r="5.3"/></g>
<g id="n482"><circle cx="367" cy="1753" r="5.3"/></g>
<g id="n483"><circle cx="367" cy="1773.2" r="5.3"/></g>
<g id="n484"><circle cx="367" cy="1793.5" r="5.3"/></g>
<g id="n485"><circle cx="367" cy="1813.8" r="5.3"/></g>
<g id="n486"><circle cx="367" cy="1834" r="5.3"/></g>
<g id="n487"><circle cx="367" cy="1854.3" r="5.3"/></g>
<g id="n488"><circle cx="367" cy="1874.6" r="5.3"/></g>
<g id="n489"><circle cx="367" cy="1894.8" r="5.3"/></g>
<g id="n490"><circle cx="367" cy="1915.1" r="5.3"/></g>
<g id="n491"><circle cx="367" cy="1935.4" r="5.3"/></g>
<g id="n492"><circle cx="367" cy="1955.6" r="5.3"/></g>
<g id="n493"><circle cx="367" cy="1975.9" r="5.3"/></g>
<g id="n494"><circle cx="367" cy="1996.2" r="5.3"/></g>
<g id="n495"><circle cx="234.3" cy="1773.2" r="5.3"/></g>
<g id="n496"><circle cx="234.3" cy="1793.5" r="5.3"/></g>
<g id="n497"><circle cx="234.3" cy="1813.8" r="5.3"/></g>
<g id="n498"><circle cx="234.3" cy="1834" r="5.3"/></g>
<g id="n499"><circle cx="333.7" cy="1813.8" r="5.3"/></g>
<g id="n500"><circle cx="333.7" cy="1834" r="5.3"/></g>
<g id="n501"><circle cx="234.3" cy="1854.3" r="5.3"/></g>
<g id="n502"><circle cx="234.3" cy="1874.6" r="5.3"/></g>
<g id="n503"><circle cx="234.3" cy="1894.8" r="5.3"/></g>
<g id="n504"><circle cx="234.3" cy="1915.1" r="5.3"/></g>
<g id="n505"><circle cx="400.7" cy="1894.8" r="5.3"/></g>
<g id="n506"><circle cx="400.7" cy="1915.1" r="5.3"/></g>
<g id="n507"><circle cx="400.7" cy="1935.4" r="5.3"/></g>
<g id="n508"><circle cx="400.7" cy="1955.6" r="5.3"/></g>
<g id="n509"><circle cx="400.7" cy="1975.9" r="5.3"/></g>
<g id="n510"><circle cx="400.7" cy="1996.2" r="5.3"/></g>
<g id="n511"><circle cx="217" cy="1935.4" r="5.3"/></g>
<g id="n512"><circle cx="217" cy="1955.6" r="5.3"/></g>
<g id="n513"><circle cx="250.3" cy="1935.4" r="5.3"/></g>
<g id="n514"><circle cx="250.3" cy="1955.6" r="5.3"/></g>
<g id="n515"><circle cx="333.7" cy="1935.4" r="5.3"/></g>
<g id="n516"><circle cx="333.7" cy="1955.6" r="5.3"/></g>
<g id="n517"><circle cx="434" cy="1935.4" r="5.3"/></g>
<g id="n518"><circle cx="434" cy="1955.6" r="5.3"/></g>
<g id="n519"><circle cx="220.7" cy="1975.9" r="5.3"/></g>
<g id="n520"><circle cx="220.7" cy="1996.2" r="5.3"/></g>
<g id="n521"><circle cx="220.7" cy="2016.4" r="5.3"/></g>
<g id="n522"><circle cx="220.7" cy="2036.7" r="5.3"/></g>
<g id="n523"><circle cx="254" cy="1975.9" r="5.3"/></g>
<g id="n524"><circle cx="254" cy="1996.2" r="5.3"/></g>
<g id="n525"><circle cx="288.7" cy="1975.9" r="5.3"/></g>
<g id="n526"><circle cx="288.7" cy="1996.2" r="5.3"/></g>
<g id="n527"><circle cx="288.7" cy="2016.4" r="5.3"/></g>
<g id="n528"><circle cx="288.7" cy="2036.7" r="5.3"/></g>
<g id="n529"><circle cx="322" cy="1975.9" r="5.3"/></g>
<g id="n530"><circle cx="322" cy="1996.2" r="5.3"/></g>
<g id="n531"><circle cx="322" cy="2016.4" r="5.3"/></g>
<g id="n532"><circle cx="322" cy="2036.7" r="5.3"/></g>
<g id="n533"><circle cx="322" cy="2057" r="5.3"/></g>
<g id="n534"><circle cx="322" cy="2077.2" r="5.3"/></g>
<g id="n535"><circle cx="322" cy="2097.5" r="5.3"/></g>
<g id="n536"><circle cx="322" cy="2117.8" r="5.3"/></g>
<g id="n537"><circle cx="359" cy="2016.4" r="5.3"/></g>
<g id="n538"><circle cx="359" cy="2036.7" r="5.3"/></g>
<g id="n539"><circle cx="392.7" cy="2016.4" r="5.3"/></g>
<g id="n540"><circle cx="392.7" cy="2036.7" r="5.3"/></g>
<g id="n541"><circle cx="204.7" cy="2057" r="5.3"/></g>
<g id="n542"><circle cx="204.7" cy="2077.2" r="5.3"/></g>
<g id="n543"><circle cx="204.7" cy="2097.5" r="5.3"/></g>
<g id="n544"><circle cx="204.7" cy="2117.8" r="5.3"/></g>
<g id="n545"><circle cx="204.7" cy="2138" r="5.3"/></g>
<g id="n546"><circle cx="204.7" cy="2158.3" r="5.3"/></g>
<g id="n547"><circle cx="238" cy="2057" r="5.3"/></g>
<g id="n548"><circle cx="238" cy="2077.2" r="5.3"/></g>
<g id="n549"><circle cx="238" cy="2097.5" r="5.3"/></g>
<g id="n550"><circle cx="238" cy="2117.8" r="5.3"/></g>
<g id="n551"><circle cx="356.7" cy="2057" r="5.3"/></g>
<g id="n552"><circle cx="356.7" cy="2077.2" r="5.3"/></g>
<g id="n553"><circle cx="356.7" cy="2097.5" r="5.3"/></g>
<g id="n554"><circle cx="356.7" cy="2117.8" r="5.3"/></g>
<g id="n555"><circle cx="390" cy="2057" r="5.3"/></g>
<g id="n556"><circle cx="390" cy="2077.2" r="5.3"/></g>
<g id="n557"><circle cx="339.3" cy="2138" r="5.3"/></g>
<g id="n558"><circle cx="339.3" cy="2158.3" r="5.3"/></g>
<g id="n559"><circle cx="339.3" cy="2178.6" r="5.3"/></g>
<g id="n560"><circle cx="339.3" cy="2198.8" r="5.3"/></g>
<g id="n561"><circle cx="372.7" cy="2138" r="5.3"/></g>
<g id="n562"><circle cx="372.7" cy="2158.3" r="5.3"/></g>
<g id="n563"><circle cx="372.7" cy="2178.6" r="5.3"/></g>
<g id="n564"><circle cx="372.7" cy="2198.8" r="5.3"/></g>
<g id="n565"><circle cx="372.7" cy="2219.1" r="5.3"/></g>
<g id="n566"><circle cx="372.7" cy="2239.4" r="5.3"/></g>
<g id="n567"><circle cx="356.7" cy="2259.6" r="5.3"/></g>
<g id="n568"><circle cx="356.7" cy="2279.9" r="5.3"/></g>
<g id="n569"><circle cx="390" cy="2259.6" r="5.3"/></g>
<g id="n570"><circle cx="390" cy="2279.9" r="5.3"/></g>
<g id="n571"><circle cx="372.7" cy="2300.2" r="5.3"/></g>
<g id="n572"><circle cx="372.7" cy="2320.4" r="5.3"/></g>
<g id="n573"><circle cx="372.7" cy="2340.7" r="5.3"/></g>
<g id="n574"><circle cx="372.7" cy="2361" r="5.3"/></g>
<g id="n575"><circle cx="406" cy="2300.2" r="5.3"/></g>
<g id="n576"><circle cx="406" cy="2320.4" r="5.3"/></g>
</g>
</svg>
